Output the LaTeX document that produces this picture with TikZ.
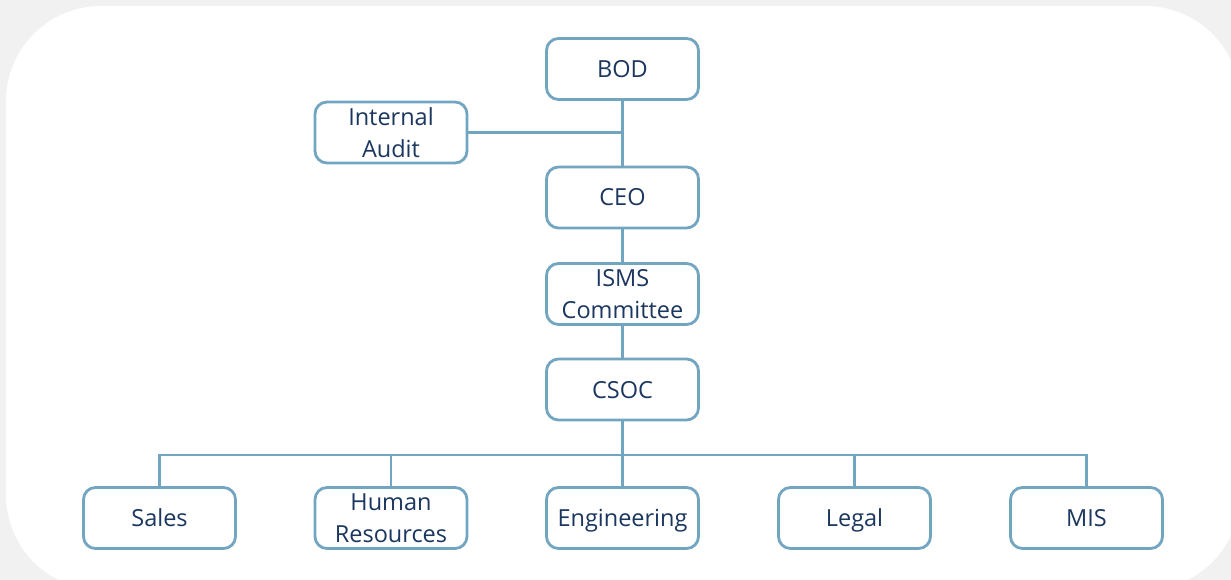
\documentclass[tikz,border=0pt]{standalone}
\usepackage{fontspec}
\setmainfont{Open Sans}
\definecolor{bgray}{HTML}{F1F1F1}
\definecolor{boxline}{HTML}{72A6C0}
\definecolor{txt}{HTML}{1B365F}
\begin{document}
\begin{tikzpicture}[x=1pt,y=-1pt,
  orgbox/.style={draw=boxline,line width=2.8pt,rounded corners=12pt,fill=white,
    minimum width=152pt,minimum height=61pt,inner sep=0pt,align=center,
    text=txt,font=\fontsize{23.5}{32}\selectfont},
  onebox/.style={orgbox,text height=17pt,text depth=0pt},
  conn/.style={draw=boxline,line width=2.8pt}]
\fill[bgray] (0,0) rectangle (1231,580);
\useasboundingbox (0,0) rectangle (1231,580);
\fill[white,rounded corners=95pt] (6,6) rectangle (1240,590);
\node[onebox] (bod) at (622.5,69) {BOD};
\node[orgbox] (audit) at (391,132.5) {Internal\\Audit};
\node[onebox] (ceo) at (622.5,197.5) {CEO};
\node[orgbox] (isms) at (622.5,294) {ISMS\\Committee};
\node[onebox] (csoc) at (622.5,389.5) {CSOC};
\node[onebox] (sales) at (159.5,518) {Sales};
\node[orgbox] (hr) at (391,518) {Human\\Resources};
\node[onebox] (eng) at (622.5,518) {Engineering};
\node[onebox] (legal) at (854.5,518) {Legal};
\node[onebox] (mis) at (1086.5,518) {MIS};
\coordinate (bus) at (622.5,455);
\draw[conn] (bod) -- (ceo);
\draw[conn] (audit.east) -- (audit.east -| bod.south);
\draw[conn] (ceo) -- (isms);
\draw[conn] (isms) -- (csoc);
\draw[conn] (csoc) -- (eng);
\draw[conn] (sales.north) |- (bus) -| (mis.north);
\draw[conn] (hr.north) -- (hr.north |- bus);
\draw[conn] (legal.north) -- (legal.north |- bus);
\end{tikzpicture}
\end{document}
